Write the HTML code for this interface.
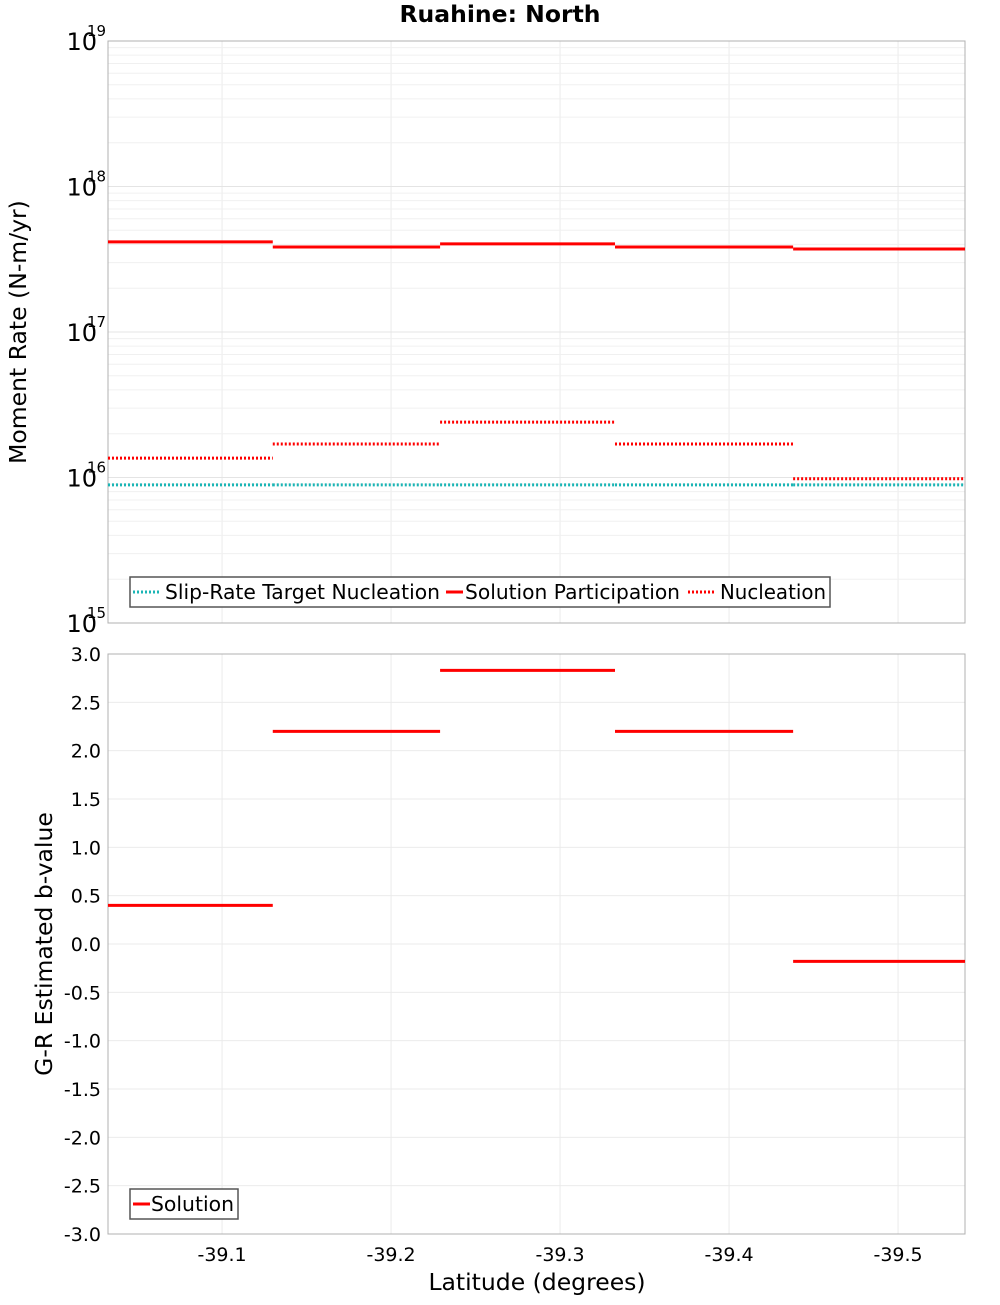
<!DOCTYPE html>
<html><head><meta charset="utf-8"><style>
body{margin:0;background:#fff;}
svg text{font-family:"DejaVu Sans","Liberation Sans",sans-serif;}
</style></head><body>
<svg id="chart" width="1000" height="1300" xmlns="http://www.w3.org/2000/svg"></svg>
<script>
const binEdges=[-39.0325,-39.130,-39.229,-39.3325,-39.4379,-39.5396];
const participation=[4.16e17,3.84e17,4.03e17,3.84e17,3.72e17];
const nucleation=[1.36e16,1.70e16,2.40e16,1.70e16,9.8e15];
const target=[8.9e15,8.9e15,8.9e15,8.9e15,8.9e15];
const bValues=[0.40,2.20,2.83,2.20,-0.18];
const xTicks=[-39.1,-39.2,-39.3,-39.4,-39.5];
const bTicks=[3,2.5,2,1.5,1,0.5,0,-0.5,-1,-1.5,-2,-2.5,-3];
const logDecades=[15,16,17,18,19];

const NS="http://www.w3.org/2000/svg";
const svg=document.getElementById('chart');
const L=108,R=965,T1=41,B1=623,T2=654,B2=1234;
const xs=v=>L+(v-binEdges[0])/(binEdges[5]-binEdges[0])*(R-L);
const y1=v=>T1+(19-Math.log10(v))/4*(B1-T1);
const y2=v=>T2+(3-v)/6*(B2-T2);
function el(tag,attrs,text){const e=document.createElementNS(NS,tag);for(const k in attrs)e.setAttribute(k,attrs[k]);if(text!==undefined)e.textContent=text;svg.appendChild(e);return e;}

for(const t of xTicks){
 let g=el('line',{x1:xs(t),x2:xs(t),y1:T1,y2:B1,stroke:'#ebebeb'});
 
 g=el('line',{x1:xs(t),x2:xs(t),y1:T2,y2:B2,stroke:'#ebebeb'});
 
}
for(let d=15;d<19;d++)for(let m=1;m<10;m++){
 const y=y1(m*Math.pow(10,d));
 const g=el('line',{x1:L,x2:R,y1:y,y2:y,stroke:m==1?'#e4e4e4':'#f0f0f0'});
 
}
for(const t of bTicks){
 const g=el('line',{x1:L,x2:R,y1:y2(t),y2:y2(t),stroke:'#ebebeb'});
 
}
let f=el('rect',{x:L,y:T1,width:R-L,height:B1-T1,fill:'none',stroke:'#b0b0b0'});

f=el('rect',{x:L,y:T2,width:R-L,height:B2-T2,fill:'none',stroke:'#b0b0b0'});


function seg(arr,ys,color,dash,name){
 for(let i=0;i<arr.length;i++){
  const a={x1:xs(binEdges[i]),x2:xs(binEdges[i+1]),y1:ys(arr[i]),y2:ys(arr[i]),stroke:color,'stroke-width':3};
  if(dash)a['stroke-dasharray']='2,2';
  const s=el('line',a);
  
 }
}
seg(target,y1,'#1bb5b5',true,'target-nucleation-segment');
seg(nucleation,y1,'#ff0000',true,'nucleation-segment');
seg(participation,y1,'#ff0000',false,'participation-segment');
seg(bValues,y2,'#ff0000',false,'b-value-segment');

for(const d of logDecades){
 const y=y1(Math.pow(10,d));
 let t=el('text',{x:97,y:y+9,'font-size':24,'text-anchor':'end'},'10');
 
 t=el('text',{x:87,y:y-5,'font-size':15},String(d));
 
}
for(const b of bTicks){
 const t=el('text',{x:101,y:y2(b)+7,'font-size':19,'text-anchor':'end'},b.toFixed(1));
 
}
for(const x of xTicks){
 const t=el('text',{x:xs(x),y:1261,'font-size':19,'text-anchor':'middle'},x.toFixed(1));
 
}
let t=el('text',{x:500,y:22,'font-size':23.5,'font-weight':'bold','text-anchor':'middle'},'Ruahine: North');

t=el('text',{x:537,y:1290,'font-size':23.5,'text-anchor':'middle'},'Latitude (degrees)');

t=el('text',{x:0,y:0,'font-size':23.5,'text-anchor':'middle',transform:'translate(26,332) rotate(-90)'},'Moment Rate (N-m/yr)');

t=el('text',{x:0,y:0,'font-size':23.5,'text-anchor':'middle',transform:'translate(52,944) rotate(-90)'},'G-R Estimated b-value');


let lg=el('rect',{x:130,y:577,width:700,height:30,fill:'#fff',stroke:'#555','stroke-width':1.5});

const items=[['Slip-Rate Target Nucleation','#1bb5b5',true,133,28,165,275],['Solution Participation','#ff0000',false,446,17,465,215],['Nucleation','#ff0000',true,688,28,720,106]];
for(const [lab,c,d,x,sw,tx0,w] of items){
 const a={x1:x,x2:x+sw,y1:592,y2:592,stroke:c,'stroke-width':3};if(d)a['stroke-dasharray']='2,2';
 const l=el('line',a);
 const tx=el('text',{x:tx0,y:599,'font-size':20,textLength:w,lengthAdjust:'spacingAndGlyphs'},lab);
}
lg=el('rect',{x:130,y:1189,width:108,height:30,fill:'#fff',stroke:'#555','stroke-width':1.5});

let l=el('line',{x1:133,x2:150,y1:1204,y2:1204,stroke:'#ff0000','stroke-width':3});

t=el('text',{x:151,y:1211,'font-size':20,textLength:83,lengthAdjust:'spacingAndGlyphs'},'Solution');

</script>
</body></html>
